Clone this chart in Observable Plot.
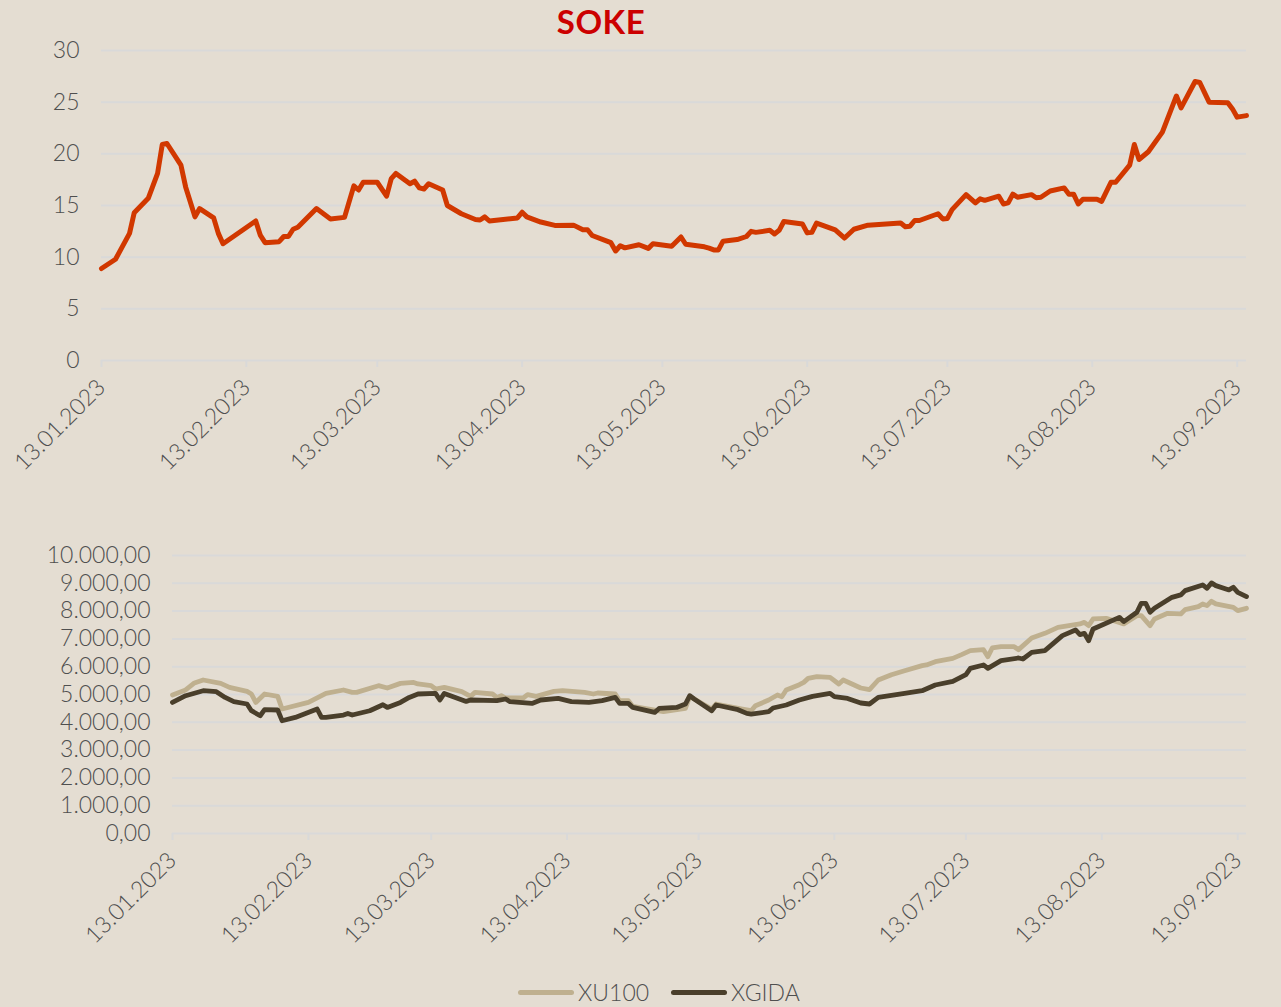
<!DOCTYPE html>
<html>
<head>
<meta charset="utf-8">
<script src="https://cdn.jsdelivr.net/npm/d3@7"></script>
<script src="https://cdn.jsdelivr.net/npm/@observablehq/plot@0.6"></script>
<style>
  html, body { margin: 0; padding: 0; background: #e4ddd2; }
  #wrap { position: relative; width: 1281px; height: 1007px; background: #e4ddd2; overflow: hidden; font-family: Lato, "Noto Sans", sans-serif; }
  #title { position: absolute; top: 0px; left: 0; width: 1202px; text-align: center; color: #cc0000; font-weight: 700; font-size: 33px; line-height: 42px; letter-spacing: 0.5px; }
  #topChart { position: absolute; left: 0; top: 0; }
  #bottomChart { position: absolute; left: 0; top: 520px; }
  .lg { position: absolute; top: 976px; height: 32px; line-height: 32px; font-size: 23px; color: #4f4f4f; font-weight: 300; }
  .sw { position: absolute; top: 990px; width: 56px; height: 5px; border-radius: 3px; }
  svg text { font-weight: 300; }
</style>
</head>
<body>
<div id="wrap">
  <div id="topChart"></div>
  <div id="title">SOKE</div>
  <div id="bottomChart"></div>
  <div class="sw" style="left:518px;background:#bfb08f"></div>
  <div class="lg" style="left:578px">XU100</div>
  <div class="sw" style="left:671px;background:#4a3f2b"></div>
  <div class="lg" style="left:731px">XGIDA</div>
</div>
<script>
// ---------- DATA ----------
const sokeDates = ["2023-01-13","2023-01-16","2023-01-19","2023-01-20","2023-01-23","2023-01-25","2023-01-26","2023-01-27","2023-01-30","2023-01-31",
"2023-02-02","2023-02-03","2023-02-06","2023-02-07","2023-02-08","2023-02-15","2023-02-16","2023-02-17","2023-02-20","2023-02-21","2023-02-22","2023-02-23","2023-02-24","2023-02-28",
"2023-03-03","2023-03-06","2023-03-08","2023-03-09","2023-03-10","2023-03-13","2023-03-15","2023-03-16","2023-03-17","2023-03-20","2023-03-21","2023-03-22","2023-03-23","2023-03-24","2023-03-27","2023-03-28","2023-03-31",
"2023-04-03","2023-04-04","2023-04-05","2023-04-06","2023-04-12","2023-04-13","2023-04-14","2023-04-17","2023-04-20","2023-04-24","2023-04-26","2023-04-27","2023-04-28",
"2023-05-02","2023-05-03","2023-05-04","2023-05-05","2023-05-08","2023-05-10","2023-05-11","2023-05-15","2023-05-17","2023-05-18","2023-05-22","2023-05-23","2023-05-24","2023-05-25","2023-05-26","2023-05-29","2023-05-31",
"2023-06-01","2023-06-02","2023-06-05","2023-06-06","2023-06-07","2023-06-08","2023-06-12","2023-06-13","2023-06-14","2023-06-15","2023-06-19","2023-06-21","2023-06-23","2023-06-26",
"2023-07-03","2023-07-04","2023-07-05","2023-07-06","2023-07-07","2023-07-11","2023-07-12","2023-07-13","2023-07-14","2023-07-17","2023-07-19","2023-07-20","2023-07-21","2023-07-24","2023-07-25","2023-07-26","2023-07-27","2023-07-28","2023-07-31",
"2023-08-01","2023-08-02","2023-08-04","2023-08-07","2023-08-08","2023-08-09","2023-08-10","2023-08-11","2023-08-14","2023-08-15","2023-08-17","2023-08-18","2023-08-21","2023-08-22","2023-08-23","2023-08-25","2023-08-28","2023-08-31",
"2023-09-01","2023-09-04","2023-09-05","2023-09-06","2023-09-07","2023-09-11","2023-09-12","2023-09-13","2023-09-15"];
const sokeValues = [8.9,9.8,12.3,14.3,15.7,18.1,20.9,21.0,18.9,16.8,
13.9,14.7,13.8,12.3,11.3,13.5,12.1,11.4,11.5,12.0,12.0,12.7,12.9,14.7,
13.7,13.85,16.9,16.5,17.25,17.25,15.9,17.6,18.1,17.1,17.35,16.7,16.6,17.1,16.5,15.0,14.2,
13.65,13.6,13.9,13.5,13.8,14.35,13.9,13.4,13.07,13.1,12.65,12.65,12.1,
11.4,10.6,11.1,10.9,11.2,10.85,11.3,11.05,11.95,11.25,11.0,10.87,10.7,10.7,11.55,11.7,12.0,
12.5,12.4,12.6,12.25,12.6,13.45,13.2,12.35,12.4,13.3,12.65,11.85,12.7,13.1,
13.3,12.95,13.0,13.55,13.55,14.2,13.7,13.75,14.6,16.05,15.25,15.65,15.5,15.9,15.15,15.25,16.1,15.8,16.05,
15.75,15.8,16.4,16.7,16.1,16.1,15.15,15.6,15.6,15.4,17.25,17.25,18.9,20.9,19.45,20.2,22.1,25.6,
24.45,27.0,26.9,25.95,25.0,24.95,24.35,23.55,23.7];

const xu100Dates = ["2023-01-13","2023-01-16","2023-01-18","2023-01-20","2023-01-24","2023-01-26","2023-01-30","2023-01-31",
"2023-02-01","2023-02-03","2023-02-06","2023-02-07","2023-02-13","2023-02-17","2023-02-21","2023-02-23","2023-02-24",
"2023-03-01","2023-03-03","2023-03-06","2023-03-09","2023-03-10","2023-03-13","2023-03-14","2023-03-16","2023-03-20","2023-03-22","2023-03-23","2023-03-27","2023-03-28","2023-03-29","2023-03-30",
"2023-04-03","2023-04-04","2023-04-06","2023-04-10","2023-04-12","2023-04-17","2023-04-19","2023-04-20","2023-04-24","2023-04-25","2023-04-27","2023-04-28",
"2023-05-05","2023-05-10","2023-05-11","2023-05-12","2023-05-16","2023-05-17","2023-05-23","2023-05-25","2023-05-26","2023-05-29","2023-05-31",
"2023-06-01","2023-06-02","2023-06-05","2023-06-06","2023-06-07","2023-06-09","2023-06-12","2023-06-14","2023-06-15","2023-06-19","2023-06-21","2023-06-23","2023-06-26","2023-06-29",
"2023-07-03","2023-07-04","2023-07-06","2023-07-10","2023-07-12","2023-07-14","2023-07-17","2023-07-18","2023-07-19","2023-07-21","2023-07-24","2023-07-25","2023-07-28","2023-07-31",
"2023-08-01","2023-08-03","2023-08-08","2023-08-09","2023-08-10","2023-08-11","2023-08-14","2023-08-18","2023-08-21","2023-08-22","2023-08-24","2023-08-25","2023-08-28","2023-08-31",
"2023-09-01","2023-09-04","2023-09-05","2023-09-06","2023-09-07","2023-09-08","2023-09-12","2023-09-13","2023-09-15"];
const xu100Values = [4982,5162,5414,5522,5400,5256,5112,5018,
4716,5018,4932,4478,4716,5040,5162,5076,5076,
5317,5234,5400,5436,5378,5317,5198,5256,5101,4932,5076,5018,4896,4957,4874,
4874,4993,4932,5112,5137,5076,5018,5054,5018,4777,4777,4572,
4381,4500,4932,4838,4478,4658,4478,4417,4597,4802,4982,
4921,5162,5353,5436,5580,5641,5616,5378,5522,5234,5173,5522,5713,5857,
6037,6062,6181,6300,6433,6577,6613,6361,6674,6721,6721,6613,7034,7200,
7272,7416,7538,7596,7477,7718,7740,7538,7837,7837,7477,7718,7920,7898,
8053,8161,8258,8197,8352,8258,8136,8017,8100];

const xgidaDates = ["2023-01-13","2023-01-16","2023-01-20","2023-01-23","2023-01-25","2023-01-27","2023-01-30","2023-01-31",
"2023-02-02","2023-02-03","2023-02-06","2023-02-07","2023-02-10","2023-02-15","2023-02-16","2023-02-17","2023-02-21","2023-02-22","2023-02-23","2023-02-27",
"2023-03-01","2023-03-02","2023-03-03","2023-03-06","2023-03-08","2023-03-10","2023-03-14","2023-03-15","2023-03-16","2023-03-21","2023-03-22","2023-03-28","2023-03-30","2023-03-31",
"2023-04-05","2023-04-07","2023-04-11","2023-04-14","2023-04-18","2023-04-21","2023-04-24","2023-04-25","2023-04-27","2023-04-28",
"2023-05-03","2023-05-04","2023-05-08","2023-05-10","2023-05-11","2023-05-12","2023-05-16","2023-05-17","2023-05-22","2023-05-24","2023-05-25","2023-05-29","2023-05-30",
"2023-06-02","2023-06-05","2023-06-08","2023-06-12","2023-06-13","2023-06-16","2023-06-19","2023-06-21","2023-06-23","2023-06-29",
"2023-07-03","2023-07-06","2023-07-10","2023-07-13","2023-07-14","2023-07-17","2023-07-18","2023-07-21","2023-07-25","2023-07-26","2023-07-28","2023-07-31",
"2023-08-04","2023-08-07","2023-08-08","2023-08-09","2023-08-10","2023-08-11","2023-08-17","2023-08-18","2023-08-21","2023-08-22","2023-08-23","2023-08-24","2023-08-25","2023-08-29","2023-08-31",
"2023-09-01","2023-09-05","2023-09-06","2023-09-07","2023-09-08","2023-09-11","2023-09-12","2023-09-13","2023-09-15"];
const xgidaValues = [4716,4957,5137,5101,4896,4741,4658,4417,
4237,4453,4442,4057,4176,4478,4176,4176,4262,4320,4262,4417,
4561,4633,4536,4716,4896,5018,5040,4802,5040,4752,4802,4777,4838,4741,
4680,4802,4860,4741,4716,4777,4896,4680,4680,4536,
4356,4500,4536,4658,4957,4838,4417,4622,4453,4320,4298,4381,4514,
4622,4802,4932,5040,4921,4860,4694,4658,4896,5040,
5137,5342,5472,5713,5940,6062,5940,6217,6314,6278,6516,6577,
7117,7322,7153,7200,6937,7358,7776,7621,7956,8280,8280,7956,8100,8496,8582,
8737,8942,8820,9014,8917,8762,8856,8676,8521];

const tickDateLabels = ["2023-01-13","2023-02-13","2023-03-13","2023-04-13","2023-05-13","2023-06-13","2023-07-13","2023-08-13","2023-09-13"];
const sokeTicks = [0,5,10,15,20,25,30];
const indexTicks = [0,1000,2000,3000,4000,5000,6000,7000,8000,9000,10000];
const domainStart = "2023-01-13";
const domainEnd = "2023-09-15";

// ---------- BUILD ----------
const parse = d3.utcParse("%Y-%m-%d");
const fmtDate = d3.utcFormat("%d.%m.%Y");
const trLocale = d3.formatLocale({decimal: ",", thousands: ".", grouping: [3], currency: ["", ""]});
const fmtIndex = trLocale.format(",.2f");

const sokeData = sokeDates.map((d, i) => ({date: parse(d), value: sokeValues[i]}));
const xu100Data = xu100Dates.map((d, i) => ({date: parse(d), value: xu100Values[i]}));
const xgidaData = xgidaDates.map((d, i) => ({date: parse(d), value: xgidaValues[i]}));
const dateTicks = tickDateLabels.map(parse);
const xDomain = [parse(domainStart), parse(domainEnd)];

const gridColor = "#d9d9d9";
const textColor = "#4f4f4f";
const plotStyle = {background: "transparent", fontFamily: "Lato, 'Noto Sans', sans-serif", fontSize: "23px", color: textColor, overflow: "visible"};

const chartTop = Plot.plot({
  width: 1281, height: 490,
  marginTop: 50, marginBottom: 130, marginLeft: 101, marginRight: 35,
  style: plotStyle,
  x: {type: "utc", domain: xDomain},
  y: {domain: [0, 30]},
  marks: [
    Plot.gridY(sokeTicks, {stroke: gridColor, strokeOpacity: 1, strokeWidth: 2}),
    Plot.axisY({ticks: sokeTicks, tickSize: 0, tickPadding: 22, fill: textColor, label: null, fontSize: 23}),
    Plot.axisX({ticks: dateTicks, tickFormat: fmtDate, tickRotate: -45, tickSize: 7, tickPadding: 16, stroke: gridColor, strokeWidth: 2, fill: textColor, label: null, fontSize: 23}),
    Plot.line(sokeData, {x: "date", y: "value", stroke: "#d13800", strokeWidth: 5, strokeLinejoin: "round", strokeLinecap: "round"})
  ]
});
document.getElementById("topChart").appendChild(chartTop);

const chartBottom = Plot.plot({
  width: 1281, height: 443,
  marginTop: 35, marginBottom: 130, marginLeft: 172, marginRight: 35,
  style: plotStyle,
  x: {type: "utc", domain: xDomain},
  y: {domain: [0, 10000]},
  marks: [
    Plot.gridY(indexTicks, {stroke: gridColor, strokeOpacity: 1, strokeWidth: 2}),
    Plot.axisY({ticks: indexTicks, tickFormat: fmtIndex, tickSize: 0, tickPadding: 22, fill: textColor, label: null, fontSize: 23}),
    Plot.axisX({ticks: dateTicks, tickFormat: fmtDate, tickRotate: -45, tickSize: 7, tickPadding: 16, stroke: gridColor, strokeWidth: 2, fill: textColor, label: null, fontSize: 23}),
    Plot.line(xu100Data, {x: "date", y: "value", stroke: "#bfb08f", strokeWidth: 4.8, strokeLinejoin: "round", strokeLinecap: "round"}),
    Plot.line(xgidaData, {x: "date", y: "value", stroke: "#4a3f2b", strokeWidth: 4.8, strokeLinejoin: "round", strokeLinecap: "round"})
  ]
});
document.getElementById("bottomChart").appendChild(chartBottom);
</script>
</body>
</html>
